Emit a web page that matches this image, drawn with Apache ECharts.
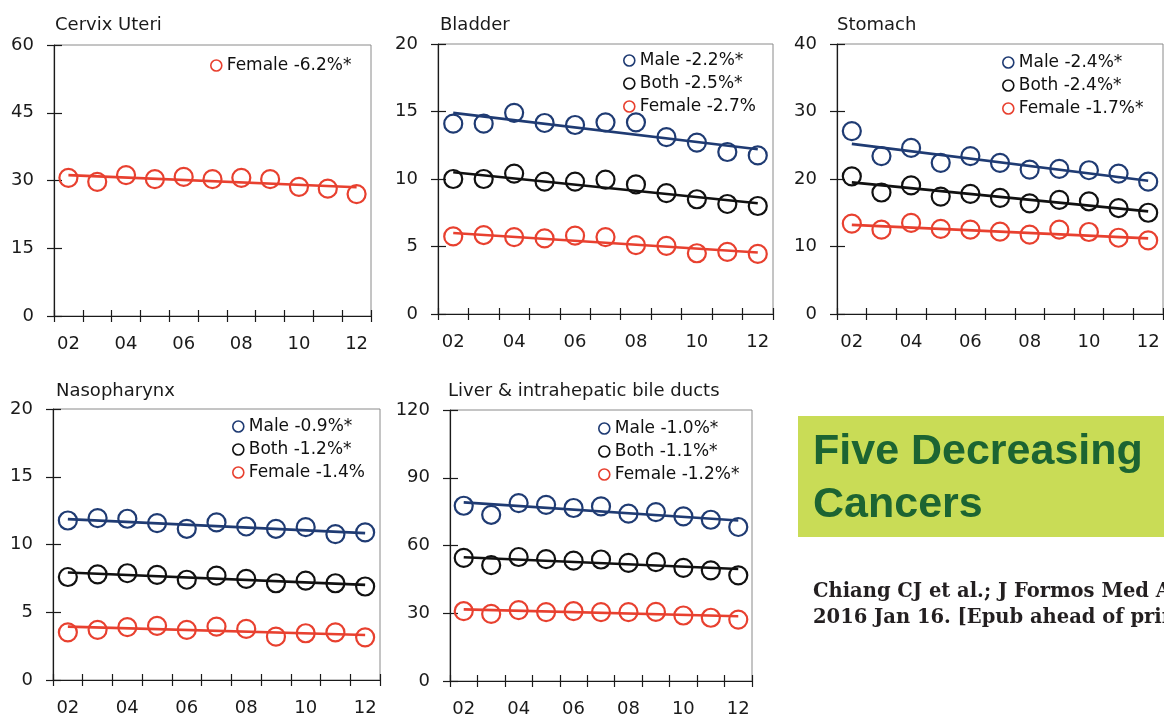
<!DOCTYPE html>
<html>
<head>
<meta charset="utf-8">
<script src="https://cdn.jsdelivr.net/npm/echarts@6/dist/echarts.min.js"></script>
<style>
  html, body { margin: 0; padding: 0; background: #fff; }
  #chart { width: 1164px; height: 718px; }
</style>
</head>
<body>
<div id="chart"></div>
<script>
// Calendar years 2002–2012, shown as two-digit labels
const years = ['02', '03', '04', '05', '06', '07', '08', '09', '10', '11', '12'];

// Cervix uteri (female only)
const cervixFemale = [30.6, 29.7, 31.2, 30.3, 30.8, 30.3, 30.6, 30.3, 28.6, 28.2, 27.0];
const cervixFemaleTrend = [31.2, 28.5];

// Bladder
const bladderMale = [14.1, 14.1, 14.9, 14.15, 14.0, 14.2, 14.2, 13.1, 12.7, 12.0, 11.75];
const bladderBoth = [10.0, 10.0, 10.4, 9.8, 9.8, 9.95, 9.6, 8.95, 8.5, 8.15, 8.0];
const bladderFemale = [5.75, 5.85, 5.7, 5.6, 5.8, 5.7, 5.1, 5.05, 4.5, 4.6, 4.45];
const bladderMaleTrend = [14.9, 12.2];
const bladderBothTrend = [10.5, 8.2];
const bladderFemaleTrend = [6.0, 4.55];

// Stomach
const stomachMale = [27.1, 23.4, 24.6, 22.4, 23.4, 22.4, 21.4, 21.5, 21.3, 20.8, 19.6];
const stomachBoth = [20.4, 18.0, 19.05, 17.4, 17.8, 17.2, 16.4, 16.9, 16.7, 15.7, 15.0];
const stomachFemale = [13.4, 12.5, 13.5, 12.6, 12.5, 12.2, 11.75, 12.5, 12.15, 11.3, 10.9];
const stomachMaleTrend = [25.2, 19.75];
const stomachBothTrend = [19.5, 15.2];
const stomachFemaleTrend = [13.2, 11.2];

// Nasopharynx
const nasoMale = [11.77, 11.95, 11.9, 11.58, 11.16, 11.63, 11.33, 11.16, 11.28, 10.76, 10.89];
const nasoBoth = [7.6, 7.8, 7.88, 7.76, 7.4, 7.7, 7.46, 7.14, 7.34, 7.14, 6.9];
const nasoFemale = [3.52, 3.7, 3.9, 4.0, 3.7, 3.94, 3.77, 3.2, 3.45, 3.52, 3.15];
const nasoMaleTrend = [11.87, 10.84];
const nasoBothTrend = [7.93, 7.02];
const nasoFemaleTrend = [3.94, 3.32];

// Liver & intrahepatic bile ducts
const liverMale = [77.6, 73.6, 78.8, 78.0, 76.6, 77.3, 74.1, 74.8, 72.9, 71.4, 68.2];
const liverBoth = [54.5, 51.3, 54.9, 54.0, 53.3, 53.8, 52.3, 52.6, 50.1, 49.0, 46.8];
const liverFemale = [30.9, 29.7, 31.4, 30.5, 30.9, 30.5, 30.5, 30.6, 29.0, 28.0, 27.2];
const liverMaleTrend = [79.1, 71.1];
const liverBothTrend = [54.8, 49.6];
const liverFemaleTrend = [31.7, 28.7];

const COLORS = { male: '#1F3B73', both: '#111111', female: '#E8402F' };
const FONT = '"DejaVu Sans", sans-serif';

const panels = [
  {
    title: 'Cervix Uteri', titlePos: { left: 55, top: 16 },
    grid: { left: 54, top: 45, width: 317, height: 271 }, max: 60, step: 15,
    legendPos: { left: 210, top: 57 },
    groups: [{ name: 'Female -6.2%*', sex: 'female', values: cervixFemale, trend: cervixFemaleTrend }]
  },
  {
    title: 'Bladder', titlePos: { left: 440, top: 16 },
    grid: { left: 438, top: 44, width: 335, height: 270 }, max: 20, step: 5,
    legendPos: { left: 623, top: 52 },
    groups: [
      { name: 'Male -2.2%*', sex: 'male', values: bladderMale, trend: bladderMaleTrend },
      { name: 'Both -2.5%*', sex: 'both', values: bladderBoth, trend: bladderBothTrend },
      { name: 'Female -2.7%', sex: 'female', values: bladderFemale, trend: bladderFemaleTrend }
    ]
  },
  {
    title: 'Stomach', titlePos: { left: 837, top: 16 },
    grid: { left: 837, top: 44, width: 326, height: 270 }, max: 40, step: 10,
    legendPos: { left: 1002, top: 54 },
    groups: [
      { name: 'Male -2.4%*', sex: 'male', values: stomachMale, trend: stomachMaleTrend },
      { name: 'Both -2.4%*', sex: 'both', values: stomachBoth, trend: stomachBothTrend },
      { name: 'Female -1.7%*', sex: 'female', values: stomachFemale, trend: stomachFemaleTrend }
    ]
  },
  {
    title: 'Nasopharynx', titlePos: { left: 56, top: 382 },
    grid: { left: 53, top: 409, width: 327, height: 271 }, max: 20, step: 5,
    legendPos: { left: 232, top: 418 },
    groups: [
      { name: 'Male -0.9%*', sex: 'male', values: nasoMale, trend: nasoMaleTrend },
      { name: 'Both -1.2%*', sex: 'both', values: nasoBoth, trend: nasoBothTrend },
      { name: 'Female -1.4%', sex: 'female', values: nasoFemale, trend: nasoFemaleTrend }
    ]
  },
  {
    title: 'Liver & intrahepatic bile ducts', titlePos: { left: 448, top: 382 },
    grid: { left: 450, top: 410, width: 302, height: 272 }, max: 120, step: 30,
    legendPos: { left: 598, top: 420 },
    groups: [
      { name: 'Male -1.0%*', sex: 'male', values: liverMale, trend: liverMaleTrend },
      { name: 'Both -1.1%*', sex: 'both', values: liverBoth, trend: liverBothTrend },
      { name: 'Female -1.2%*', sex: 'female', values: liverFemale, trend: liverFemaleTrend }
    ]
  }
];

const title = [], grid = [], xAxis = [], yAxis = [], legend = [], series = [];
const axisColor = '#1a1a1a';

panels.forEach((p, i) => {
  title.push({
    text: p.title, left: p.titlePos.left, top: p.titlePos.top, padding: 0,
    textStyle: { fontFamily: FONT, fontSize: 18, fontWeight: 'normal', color: '#1a1a1a' }
  });
  grid.push(Object.assign({ show: true, borderColor: '#8a8a8a', borderWidth: 1, containLabel: false }, p.grid));

  // Outer axes: axis line, outward ticks and labels
  xAxis.push({
    gridIndex: i, type: 'category', data: years, boundaryGap: true, position: 'bottom',
    axisLine: { lineStyle: { color: axisColor, width: 1.2 } },
    axisTick: { show: true, interval: 0, length: 6, lineStyle: { color: axisColor, width: 1.2 } },
    axisLabel: { interval: 1, margin: 19, fontFamily: FONT, fontSize: 18, color: '#1a1a1a' },
    splitLine: { show: false }
  });
  // Overlaid axes: inward ticks only, so the ticks cross the axis line
  xAxis.push({
    gridIndex: i, type: 'category', data: years, boundaryGap: true, position: 'bottom',
    axisLine: { show: false },
    axisTick: { show: true, inside: true, interval: 0, length: 6, lineStyle: { color: axisColor, width: 1.2 } },
    axisLabel: { show: false }, splitLine: { show: false }
  });
  yAxis.push({
    gridIndex: i, type: 'value', min: 0, max: p.max, interval: p.step, position: 'left',
    axisLine: { show: true, lineStyle: { color: axisColor, width: 1.2 } },
    axisTick: { show: true, length: 7, lineStyle: { color: axisColor, width: 1.2 } },
    axisLabel: { margin: 20, fontFamily: FONT, fontSize: 18, color: '#1a1a1a' },
    splitLine: { show: false }
  });
  yAxis.push({
    gridIndex: i, type: 'value', min: 0, max: p.max, interval: p.step, position: 'left',
    axisLine: { show: false },
    axisTick: { show: true, inside: true, length: 8, lineStyle: { color: axisColor, width: 1.2 } },
    axisLabel: { show: false }, splitLine: { show: false }
  });

  legend.push({
    left: p.legendPos.left, top: p.legendPos.top, orient: 'vertical', align: 'left',
    padding: 0, itemWidth: 11, itemHeight: 11, itemGap: 6, icon: 'circle', selectedMode: false,
    textStyle: { fontFamily: FONT, fontSize: 17, color: '#111' },
    data: p.groups.map(g => ({
      name: g.name,
      itemStyle: { color: 'rgba(0,0,0,0)', borderColor: COLORS[g.sex], borderWidth: 1.6 }
    }))
  });

  p.groups.forEach(g => {
    const c = COLORS[g.sex];
    series.push({
      name: g.name, type: 'scatter', xAxisIndex: 2 * i, yAxisIndex: 2 * i,
      data: g.values, symbol: 'circle', symbolSize: 18,
      itemStyle: { color: 'rgba(0,0,0,0)', borderColor: c, borderWidth: 2.2, opacity: 1 },
      silent: true, z: 2
    });
    // Fitted trend line from first to last year
    series.push({
      type: 'line', xAxisIndex: 2 * i, yAxisIndex: 2 * i,
      data: [[years[0], g.trend[0]], [years[years.length - 1], g.trend[1]]],
      symbol: 'none', lineStyle: { color: c, width: 2.6 },
      silent: true, z: 3
    });
  });
});

const graphic = [
  {
    type: 'rect', left: 798, top: 416, silent: true,
    shape: { width: 370, height: 121 },
    style: { fill: '#C9DC56' }
  },
  {
    type: 'text', x: 813, y: 452, silent: true,
    style: { text: 'Five Decreasing', font: 'bold 43px "Liberation Sans", Arial, sans-serif', fill: '#1C6432', verticalAlign: 'middle' }
  },
  {
    type: 'text', x: 813, y: 505, silent: true,
    style: { text: 'Cancers', font: 'bold 43px "Liberation Sans", Arial, sans-serif', fill: '#1C6432', verticalAlign: 'middle' }
  },
  {
    type: 'text', x: 813, y: 592, silent: true,
    style: { text: 'Chiang CJ et al.; J Formos Med Assoc', font: 'bold 19.5px "DejaVu Serif", serif', fill: '#231F20', verticalAlign: 'middle' }
  },
  {
    type: 'text', x: 813, y: 618, silent: true,
    style: { text: '2016 Jan 16. [Epub ahead of print]', font: 'bold 19.5px "DejaVu Serif", serif', fill: '#231F20', verticalAlign: 'middle' }
  }
];

const chart = echarts.init(document.getElementById('chart'), null, { renderer: 'canvas' });
chart.setOption({
  animation: false,
  backgroundColor: '#fff',
  title, grid, xAxis, yAxis, legend, series, graphic
});
</script>
</body>
</html>
